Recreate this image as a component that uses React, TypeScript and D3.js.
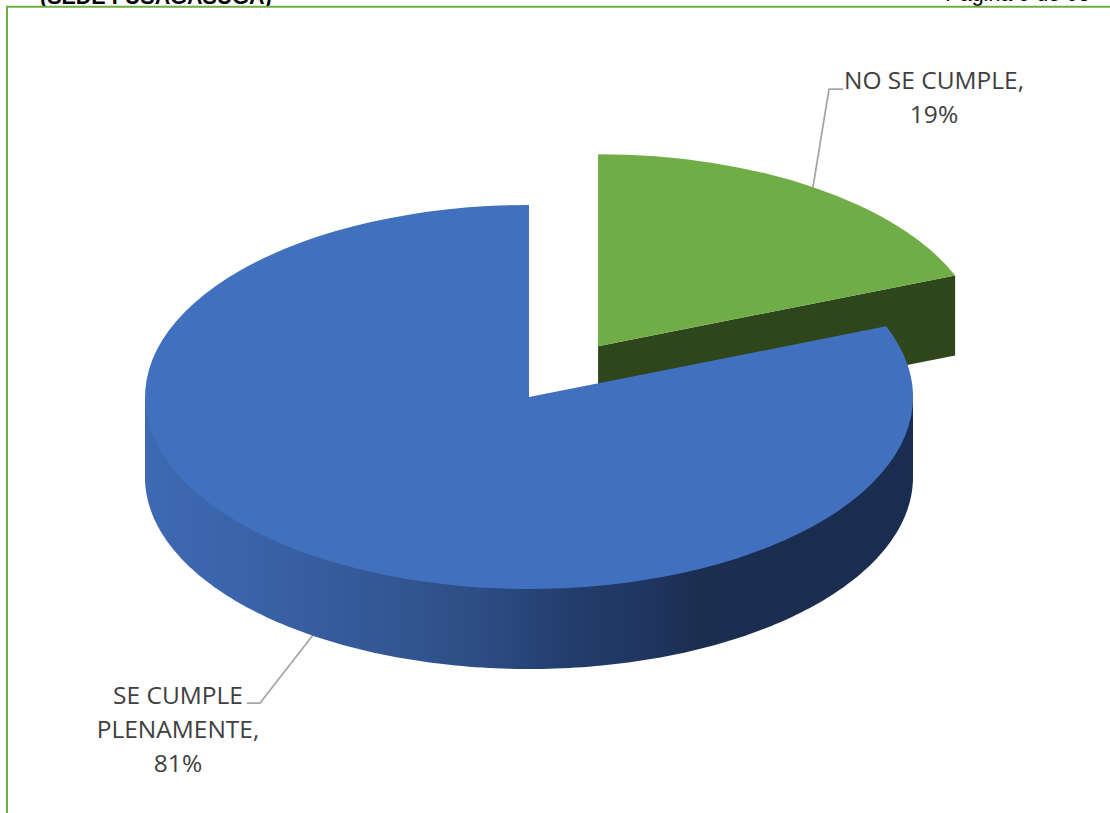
import React from "react";
import * as d3 from "d3";

// Survey result shares
const categories = ["SE CUMPLE PLENAMENTE", "NO SE CUMPLE"];
const shares = [81, 19];
const labelLines = [["SE CUMPLE", "PLENAMENTE,", "81%"], ["NO SE CUMPLE,", "19%"]];

const WIDTH = 1110;
const HEIGHT = 813;
const CX = 529;
const CY = 397;
const RX = 384;
const RY = 192;
const DEPTH = 80;
const EXPLODE = 0.32;

const BLUE = "#4170bf";
const GREEN = "#70ad47";
const GREEN_DARK = "#2f461c";
const FRAME = "#70ad47";
const LEADER = "#a6a6a6";
const TEXT = "#404040";
const LABEL_FONT = "Open Sans, sans-serif";

// The large slice starts where the small one ends, so the small one begins at twelve o'clock.
const firstAngle = (shares[1] / d3.sum(shares)) * 2 * Math.PI;
const pieLayout = d3
  .pie<number>()
  .sort(null)
  .startAngle(firstAngle)
  .endAngle(firstAngle + 2 * Math.PI);
const [blueSlice, greenSlice] = pieLayout(shares);
const greenMid = (greenSlice.startAngle + greenSlice.endAngle) / 2;

const unitArc = d3.arc<any>().innerRadius(0).outerRadius(1);

// Horizontal and vertical scales map the unit circle to the tilted ellipse.
const sx = d3.scaleLinear().domain([-1, 1]).range([-RX, RX]);
const sy = d3.scaleLinear().domain([-1, 1]).range([-RY, RY]);

const onRim = (a: number): [number, number] => [sx(Math.sin(a)), sy(-Math.cos(a))];

const greenDx = sx(EXPLODE * Math.sin(greenMid));
const greenDy = sy(-EXPLODE * Math.cos(greenMid));

const lineGen = d3.line();

// Outer wall of the lower half of the disc; its flat top edge is hidden under the slice.
const rimAngles = d3.range(90, 270.5, 1).map((d) => (d * Math.PI) / 180);
const rimBottom = rimAngles.map(onRim).map(([x, y]) => [x, y + DEPTH] as [number, number]);
const wallPath = lineGen([[sx(1), 0], ...rimBottom, [sx(-1), 0]] as [number, number][]) + "Z";

// Visible cut face of the pulled-out slice.
const [edgeX, edgeY] = onRim(greenSlice.endAngle);
const facePath =
  lineGen([[0, 0], [edgeX, edgeY], [edgeX, edgeY + DEPTH], [0, DEPTH]] as [number, number][]) + "Z";

const wallStops: [number, string][] = [
  [0, "#3e6ab3"],
  [0.16, "#3961a6"],
  [0.33, "#335692"],
  [0.46, "#2b4a80"],
  [0.55, "#233d6d"],
  [0.66, "#20355f"],
  [0.72, "#1b2e50"],
  [1, "#1a2d50"],
];

const leaders: [number, number][][] = [
  [[313, 635], [260, 703], [247, 703]],
  [[813, 187], [829, 89], [843, 89]],
];

const labelPlacement = [
  { x: 178, y: 704 },
  { x: 934, y: 89 },
];
const LINE_STEP = 34;

export default function App() {
  return (
    <svg
      width={WIDTH}
      height={HEIGHT}
      viewBox={`0 0 ${WIDTH} ${HEIGHT}`}
      style={{ position: "fixed", left: 0, top: 0, display: "block", background: "#fff" }}
    >
      <defs>
        <linearGradient id="wall" gradientUnits="userSpaceOnUse" x1={-RX} x2={RX} y1={0} y2={0}>
          {wallStops.map(([o, c]) => (
            <stop key={o} offset={o} stopColor={c} />
          ))}
        </linearGradient>
        <clipPath id="headerBand">
          <rect x={0} y={0} width={WIDTH} height={6} />
        </clipPath>
      </defs>

      {/* Page header running behind the frame */}
      <g clipPath="url(#headerBand)" fill="#000" fontFamily="Liberation Sans" fontSize={21.5}>
        <text x={40} y={4} fontWeight={700}>
          (SEDE FUSAGASUGA)
        </text>
        <text x={1090} y={1} textAnchor="end">
          Página 5 de 68
        </text>
      </g>

      <path d={`M7,${HEIGHT}V6.75H${WIDTH}`} fill="none" stroke={FRAME} strokeWidth={2} />

      {/* Leader lines sit under the slices */}
      {leaders.map((pts, i) => (
        <path key={categories[i]} d={lineGen(pts)!} fill="none" stroke={LEADER} strokeWidth={1.75} />
      ))}

      {/* Pulled-out slice */}
      <g transform={`translate(${CX + greenDx},${CY + greenDy})`}>
        <path d={facePath} fill={GREEN_DARK} />
        <path transform={`scale(${RX},${RY})`} d={unitArc(greenSlice)!} fill={GREEN} />
      </g>

      {/* Main slice */}
      <g transform={`translate(${CX},${CY})`}>
        <path d={wallPath} fill="url(#wall)" />
        <path transform={`scale(${RX},${RY})`} d={unitArc(blueSlice)!} fill={BLUE} />
      </g>

      {labelLines.map((lines, i) => (
        <text
          key={categories[i]}
          textAnchor="middle"
          fontFamily={LABEL_FONT}
          fontSize={24.5}
          fill={TEXT}
        >
          {lines.map((line, j) => (
            <tspan key={line} x={labelPlacement[i].x} y={labelPlacement[i].y + j * LINE_STEP}>
              {line}
            </tspan>
          ))}
        </text>
      ))}
    </svg>
  );
}
